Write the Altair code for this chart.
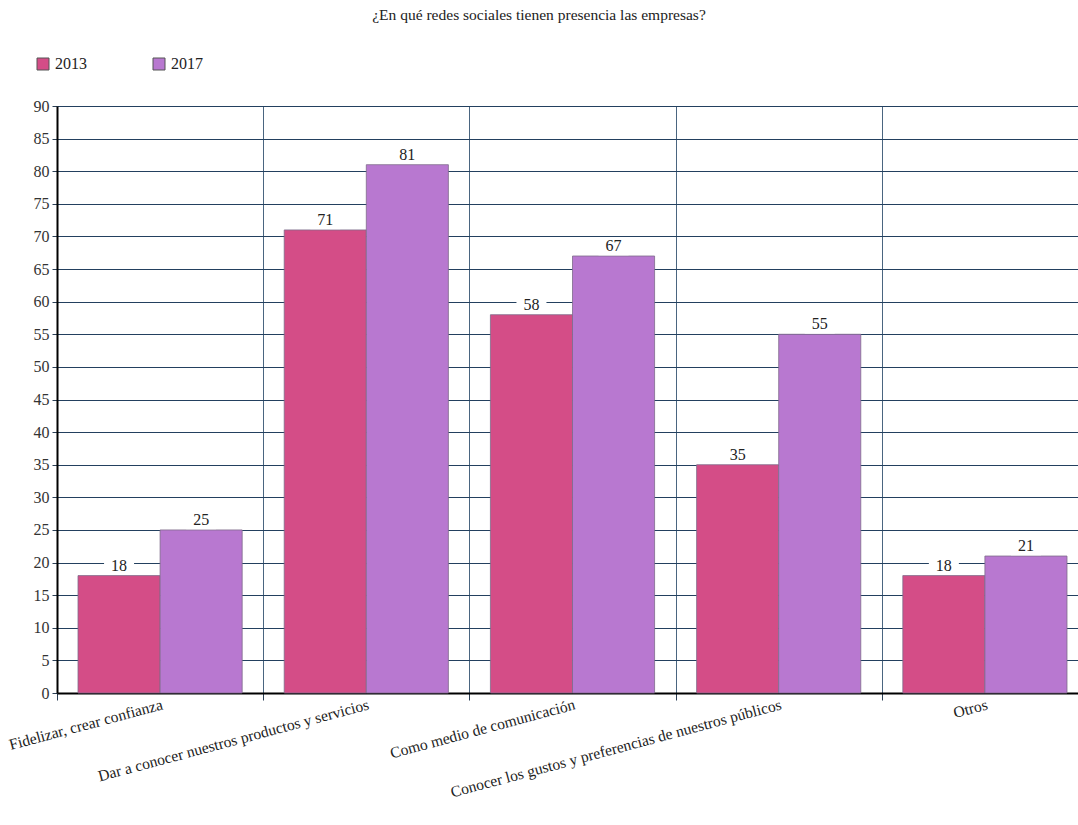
import altair as alt
import pandas as pd

categories = [
    "Fidelizar, crear confianza",
    "Dar a conocer nuestros productos y servicios",
    "Como medio de comunicación",
    "Conocer los gustos y preferencias de nuestros públicos",
    "Otros",
]
values_2013 = [18, 71, 58, 35, 18]
values_2017 = [25, 81, 67, 55, 21]
years = ["2013", "2017"]
colors = ["#d44d87", "#b878d0"]
title_text = "¿En qué redes sociales tienen presencia las empresas?"
y_ticks = list(range(0, 91, 5))

rows = []
for c, a, b in zip(categories, values_2013, values_2017):
    rows.append({"cat": c, "year": "2013", "value": a})
    rows.append({"cat": c, "year": "2017", "value": b})
df = pd.DataFrame(rows)

FONT = "Liberation Serif"

xscale = alt.Scale(domain=categories, range=[0, 1031], paddingInner=0, paddingOuter=0)
xaxis = alt.Axis(
    title=None,
    tickBand="extent",
    labelAngle=345,
    labelAlign="right",
    labelBaseline="top",
    labelPadding=-3,
    tickSize=7,
    tickColor="#2b3f55",
    domainColor="#000000",
    domainWidth=2,
    grid=True,
    gridColor="#4a6580",
    gridWidth=1,
    labelFont=FONT,
    labelFontSize=15.6,
    labelColor="#222222",
    labelLimit=600,
    labelOverlap=False,
)
yscale = alt.Scale(domain=[0, 90], nice=False)
yaxis = alt.Axis(
    title=None,
    values=y_ticks,
    labelOverlap=False,
    tickSize=5,
    tickColor="#2b3f55",
    domainColor="#000000",
    domainWidth=2,
    grid=True,
    gridColor="#23405f",
    gridWidth=1,
    labelFont=FONT,
    labelFontSize=16,
    labelColor="#333333",
    labelPadding=3,
)
xoffscale = alt.Scale(paddingOuter=0.256, paddingInner=0)


def enc_x():
    return alt.X("cat:N", sort=categories, scale=xscale, axis=xaxis)


def enc_xoff():
    return alt.XOffset("year:N", sort=years, scale=xoffscale)


def enc_y():
    return alt.Y("value:Q", scale=yscale, axis=yaxis)


base = alt.Chart(df)

bars = base.mark_bar(stroke="#7d6b8a", strokeWidth=0.8).encode(
    x=enc_x(),
    xOffset=enc_xoff(),
    y=enc_y(),
    color=alt.Color(
        "year:N",
        scale=alt.Scale(domain=years, range=colors),
        legend=alt.Legend(
            title=None,
            orient="none",
            legendX=-22,
            legendY=-50,
            direction="horizontal",
            symbolType="square",
            symbolSize=144,
            symbolStrokeColor="#555555",
            symbolStrokeWidth=1,
            symbolOpacity=1,
            labelFont=FONT,
            labelFontSize=16,
            labelColor="#222222",
            columnPadding=64,
        ),
    ),
)

boxes = base.mark_point(
    shape="M-1,-0.55L1,-0.55L1,0.55L-1,0.55Z",
    size=900,
    filled=True,
    color="white",
    opacity=1,
    strokeWidth=0,
    yOffset=-9,
).encode(x=enc_x(), xOffset=enc_xoff(), y=enc_y())

texts = base.mark_text(
    dy=-10, baseline="middle", font=FONT, fontSize=16, color="#222222"
).encode(x=enc_x(), xOffset=enc_xoff(), y=enc_y(), text="value:Q")

title_df = pd.DataFrame({"t": [title_text]})
title = alt.Chart(title_df).mark_text(
    font=FONT, fontSize=15.5, color="#222222", baseline="middle", align="center"
).encode(text="t:N", x=alt.value(482), y=alt.value(-91))

chart = (
    alt.layer(bars, boxes, texts, title)
    .properties(
        width=1021,
        height=587,
        autosize=alt.AutoSizeParams(type="none"),
        padding={"left": 57, "top": 106, "right": 0, "bottom": 132},
        background="white",
    )
    .configure(font=FONT)
    .configure_view(strokeWidth=0)
)

chart.save("out.html", embed_options={"renderer": "svg", "actions": False})
